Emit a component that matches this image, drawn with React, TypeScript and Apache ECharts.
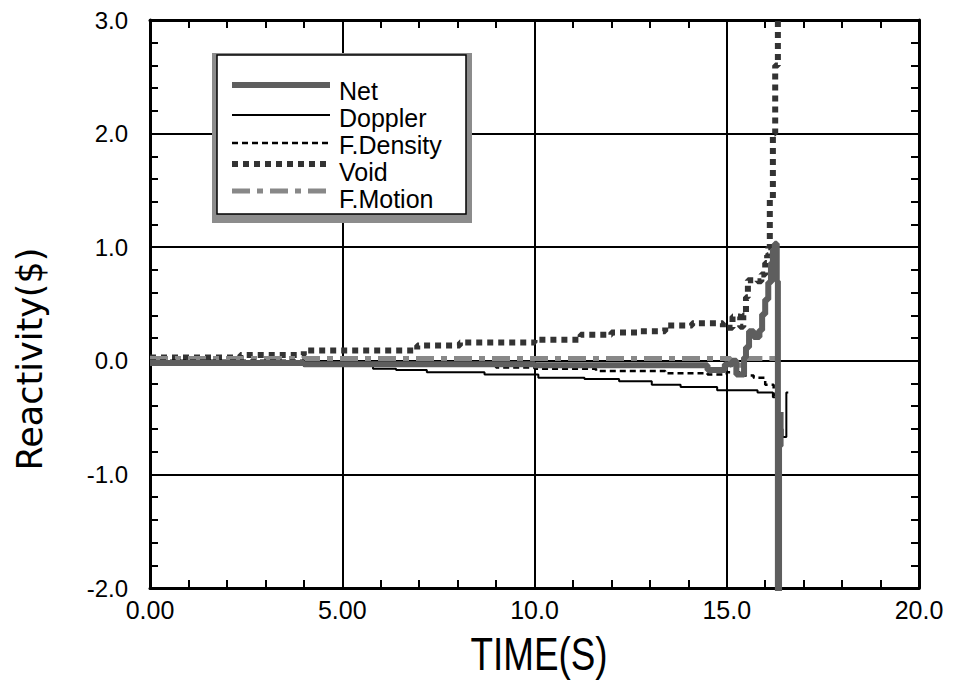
import React, { useEffect, useRef } from 'react';
import * as echarts from 'echarts';

const xTickLabels = ['0.00', '5.00', '10.0', '15.0', '20.0'];
const yTickLabels = ['-2.0', '-1.0', '0.0', '1.0', '2.0', '3.0'];
const legendNames = ['Net', 'Doppler', 'F.Density', 'Void', 'F.Motion'];

// [time (s), reactivity ($)] — step values held until next point
const netData = [
  [0, -0.02], [4.0, -0.03], [10.0, -0.04], [14.5, -0.08], [14.95, -0.03], [15.15, 0.0],
  [15.25, -0.12], [15.45, 0.03], [15.5, 0.12], [15.58, 0.26], [15.7, 0.21], [15.85, 0.27],
  [15.92, 0.41], [16.0, 0.54], [16.08, 0.69], [16.15, 0.86], [16.2, 0.98], [16.25, 1.03],
  [16.3, 0.7], [16.33, -2.6], [16.36, -0.75], [16.4, -0.45],
];
const dopplerData = [
  [0, -0.01], [2.0, -0.02], [4.0, -0.045], [5.8, -0.07], [6.4, -0.08], [7.2, -0.1],
  [8.7, -0.12], [10.1, -0.15], [11.3, -0.16], [12.2, -0.18], [13.05, -0.21], [13.8, -0.23],
  [14.75, -0.26], [15.8, -0.28], [16.2, -0.32], [16.3, -0.35], [16.35, -0.6], [16.45, -0.67],
  [16.55, -0.28], [16.6, -0.28],
];
const densityData = [
  [0, 0.0], [4.0, -0.02], [7.0, -0.04], [9.0, -0.06], [10.0, -0.07], [11.6, -0.09],
  [13.4, -0.11], [14.5, -0.12], [15.0, -0.1], [15.4, -0.13], [15.7, -0.15], [16.0, -0.21],
  [16.22, -0.3], [16.3, -0.35],
];
const voidData = [
  [0, 0.03], [2.35, 0.05], [4.0, 0.09], [6.95, 0.135], [8.06, 0.16], [10.0, 0.185],
  [11.2, 0.23], [12.0, 0.25], [12.7, 0.26], [13.4, 0.31], [14.1, 0.33], [14.9, 0.29],
  [15.15, 0.39], [15.35, 0.3], [15.43, 0.4], [15.5, 0.56], [15.55, 0.71], [15.8, 0.7],
  [15.9, 0.76], [16.0, 0.86], [16.05, 0.93], [16.08, 1.0], [16.12, 1.42], [16.2, 2.0],
  [16.26, 2.6], [16.33, 3.2],
];
const motionData = [
  [0, 0.02], [15.1, -0.04], [15.45, 0.02], [16.3, 0.02],
];

const styles: Record<string, any> = {
  Net: { color: '#5e5e5e', width: 6, type: 'solid' },
  Doppler: { color: '#000000', width: 2, type: 'solid' },
  'F.Density': { color: '#000000', width: 2.5, type: [6, 4] },
  Void: { color: '#333333', width: 6, type: [6, 5] },
  'F.Motion': { color: '#888888', width: 5, type: [18, 7, 6, 7] },
};

const LAB_FONT = '"Liberation Sans", Arial, Helvetica, sans-serif';

function makeSeries(name: string, data: number[][], z: number) {
  const s = styles[name];
  return {
    name,
    type: 'line',
    data,
    step: 'end',
    symbol: 'none',
    clip: true,
    z,
    lineStyle: { color: s.color, width: s.width, type: s.type, cap: 'butt' },
  };
}

function legendGraphics() {
  const els: any[] = [];
  els.push({ type: 'rect', z: 100, shape: { x: 212, y: 53, width: 260, height: 170 }, style: { fill: '#8c8c8c' } });
  els.push({ type: 'rect', z: 101, shape: { x: 217, y: 55, width: 249, height: 159 }, style: { fill: '#ffffff', stroke: '#000', lineWidth: 1.5 } });
  const lineYs = [85, 115, 143, 164, 191];
  const textYs = [91, 118, 145, 172, 199];
  legendNames.forEach((n, i) => {
    const s = styles[n];
    els.push({
      type: 'line', z: 102,
      shape: { x1: 232, y1: lineYs[i], x2: 330, y2: lineYs[i] },
      style: { stroke: s.color, lineWidth: s.width, lineDash: s.type === 'solid' ? null : s.type, lineCap: 'butt' },
    });
    els.push({
      type: 'text', z: 102, x: 339, y: textYs[i],
      style: { text: n, fontSize: 25, fontFamily: LAB_FONT, fill: '#000', align: 'left', verticalAlign: 'middle', textAlign: 'left', textVerticalAlign: 'middle' },
    });
  });
  els.push({
    type: 'text', z: 102, x: 30, y: 359, rotation: Math.PI / 2,
    style: { text: 'Reactivity($)', fontSize: 35, fontFamily: '"DejaVu Sans", sans-serif', fill: '#000', align: 'center', verticalAlign: 'middle', textAlign: 'center', textVerticalAlign: 'middle' },
  });
  els.push({
    type: 'text', z: 102, x: 539, y: 654, scaleX: 0.8, originX: 0, originY: 0,
    style: { text: 'TIME(S)', fontSize: 46, fontFamily: LAB_FONT, fill: '#000', align: 'center', verticalAlign: 'middle', textAlign: 'center', textVerticalAlign: 'middle' },
  });
  return els;
}

const axisLineStyle = { color: '#000', width: 3 };
const tickStyle = { color: '#000', width: 2 };

function xAxisCfg(position: 'bottom' | 'top', labels: boolean) {
  return {
    type: 'value', position, min: 0, max: 20, interval: 5,
    axisLine: { show: true, onZero: false, lineStyle: axisLineStyle },
    axisTick: { show: true, inside: true, length: 8, lineStyle: tickStyle },
    minorTick: { show: true, splitNumber: 5, length: 8, lineStyle: tickStyle },
    splitLine: { show: labels, lineStyle: { color: '#000', width: 2 } },
    axisLabel: {
      show: labels, showMinLabel: true, showMaxLabel: true, margin: 9,
      fontSize: 25, fontFamily: LAB_FONT, color: '#000',
      formatter: (v: number) => xTickLabels[Math.round(v / 5)] ?? '',
    },
  };
}

function yAxisCfg(position: 'left' | 'right', labels: boolean) {
  return {
    type: 'value', position, min: -2, max: 3, interval: 1,
    axisLine: { show: true, onZero: false, lineStyle: axisLineStyle },
    axisTick: { show: true, inside: true, length: 8, lineStyle: tickStyle },
    minorTick: { show: true, splitNumber: 5, length: 8, lineStyle: tickStyle },
    splitLine: { show: labels, lineStyle: { color: '#000', width: 2 } },
    axisLabel: {
      show: labels, showMinLabel: true, showMaxLabel: true, margin: 22,
      fontSize: 24, fontFamily: LAB_FONT, color: '#000',
      formatter: (v: number) => yTickLabels[Math.round(v + 2)] ?? '',
    },
  };
}

export default function App() {
  const ref = useRef<HTMLDivElement>(null);
  useEffect(() => {
    if (!ref.current) return;
    const chart = echarts.init(ref.current, null, { renderer: 'svg' });
    chart.setOption({
      animation: false,
      backgroundColor: '#ffffff',
      grid: { left: 150, right: 37, top: 20, bottom: 100, containLabel: false },
      xAxis: [xAxisCfg('bottom', true), xAxisCfg('top', false)],
      yAxis: [yAxisCfg('left', true), yAxisCfg('right', false)],
      series: [
        makeSeries('Void', voidData, 3),
        makeSeries('F.Motion', motionData, 4),
        makeSeries('F.Density', densityData, 5),
        makeSeries('Doppler', dopplerData, 6),
        makeSeries('Net', netData, 7),
      ],
      graphic: legendGraphics(),
    });
    return () => chart.dispose();
  }, []);
  return (
    <div
      ref={ref}
      style={{ position: 'fixed', left: 0, top: 0, width: 956, height: 688, background: '#fff' }}
    />
  );
}
